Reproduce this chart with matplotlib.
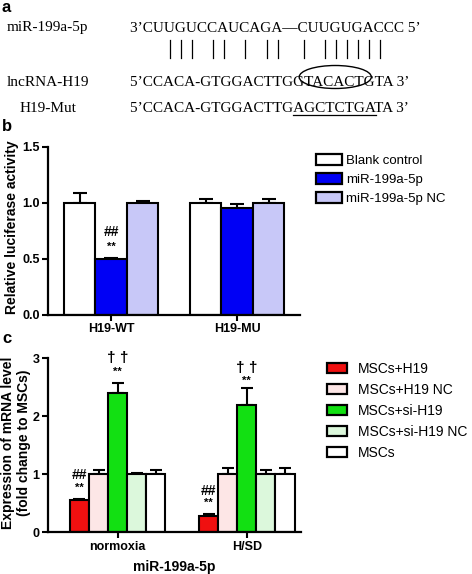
import matplotlib
matplotlib.use('Agg')
import matplotlib.pyplot as plt
from matplotlib.patches import Patch, Ellipse
from matplotlib.lines import Line2D
import numpy as np

plt.rcParams['font.family'] = ['Liberation Sans', 'DejaVu Sans']

# ---------------- data ----------------
# panel a
seq_labels = ['miR-199a-5p', 'lncRNA-H19', 'H19-Mut']
seqs = ['3’CUUGUCCAUCAGA—CUUGUGACCC 5’',
        '5’CCACA-GTGGACTTGGTACACTGTA 3’',
        '5’CCACA-GTGGACTTGAGCTCTGATA 3’']
pair_idx = [4, 5, 6, 8, 9, 11, 13, 14, 16, 18, 19, 20, 21, 22, 23]
site_start, site_end = 17, 25

# panel b
groups_b = ['H19-WT', 'H19-MU']
series_b = ['Blank control', 'miR-199a-5p', 'miR-199a-5p NC']
vals_b = [[1.0, 1.0], [0.50, 0.955], [1.0, 1.0]]
errs_b = [[0.09, 0.035], [0.006, 0.03], [0.012, 0.035]]
colors_b = ['#ffffff', '#0000f5', '#c8c8f8']
ann_b = [(0, 1, '##', 0.74, 10), (0, 1, '**', 0.61, 8)]

# panel c
groups_c = ['normoxia', 'H/SD']
series_c = ['MSCs+H19', 'MSCs+H19 NC', 'MSCs+si-H19', 'MSCs+si-H19 NC', 'MSCs']
vals_c = [[0.55, 0.28], [1.0, 1.0], [2.4, 2.19], [1.0, 1.0], [1.0, 1.0]]
errs_c = [[0.02, 0.04], [0.07, 0.1], [0.17, 0.3], [0.02, 0.08], [0.08, 0.1]]
colors_c = ['#f01010', '#fde6e6', '#12e012', '#dcf8dc', '#ffffff']
ann_c = [(0, 0, '##', 0.99, 10), (0, 0, '**', 0.76, 8),
         (0, 2, '† †', 3.0, 11), (0, 2, '**', 2.77, 8),
         (1, 2, '† †', 2.83, 11), (1, 2, '**', 2.61, 8),
         (1, 0, '##', 0.71, 10), (1, 0, '**', 0.50, 8)]

# ---------------- figure ----------------
W, H = 472, 574
fig = plt.figure(figsize=(W / 100, H / 100), dpi=100)


def fx(x):
    return x / W


def fy(y):
    return 1 - y / H


renderer = fig.canvas.get_renderer()
serif = dict(family=['Liberation Serif', 'DejaVu Serif'], fontsize=11)


def width_px(s):
    if not s:
        return 0.0
    t = fig.text(0, 0, s, **serif)
    w = t.get_window_extent(renderer).width
    t.remove()
    return w


# panel letters
for lab, yb in [('a', 12), ('b', 131), ('c', 343)]:
    fig.text(fx(2), fy(yb), lab, fontsize=12, fontweight='bold', va='baseline')

# panel a
x0 = 130
baselines = [31.5, 86, 112]
label_x = [7, 7, 20]
for lab, s, yb, lx in zip(seq_labels, seqs, baselines, label_x):
    fig.text(fx(lx), fy(yb), lab, va='baseline', **serif)
    fig.text(fx(x0), fy(yb), s, va='baseline', **serif)

top = seqs[0]
for i in pair_idx:
    xc = x0 + (width_px(top[:i]) + width_px(top[:i + 1])) / 2 + 1
    fig.add_artist(Line2D([fx(xc), fx(xc)], [fy(40), fy(58)],
                          transform=fig.transFigure, color='black', lw=0.9))

lnc = seqs[1]
L = x0 + width_px(lnc[:site_start])
Lw = width_px(lnc[:site_start + 1]) - width_px(lnc[:site_start])
R = x0 + width_px(lnc[:site_end])
Rw = width_px(lnc[:site_end]) - width_px(lnc[:site_end - 1])
el_l, el_r = L + 0.55 * Lw, R - 0.3 * Rw
fig.add_artist(Ellipse((fx((el_l + el_r) / 2), fy(77)), fx(el_r - el_l), 23 / H,
                       transform=fig.transFigure, fill=False, edgecolor='black', lw=1.0))

mut = seqs[2]
uL = x0 + width_px(mut[:site_start])
uR = x0 + width_px(mut[:site_end])
fig.add_artist(Line2D([fx(uL), fx(uR)], [fy(114.5), fy(114.5)],
                      transform=fig.transFigure, color='black', lw=0.9))


def style_axes(ax):
    for sp in ['top', 'right']:
        ax.spines[sp].set_visible(False)
    for sp in ['left', 'bottom']:
        ax.spines[sp].set_linewidth(1.6)
    ax.tick_params(axis='both', length=4, width=1.5, labelsize=9, pad=2)
    for lab in ax.get_xticklabels() + ax.get_yticklabels():
        lab.set_fontweight('bold')


# panel b
axb = fig.add_axes([fx(48), fy(314.7), fx(252), 168 / H])
nb = len(series_b)
wb = 0.25
xb = np.arange(len(groups_b))
for k in range(nb):
    pos = xb + (k - (nb - 1) / 2) * wb
    axb.bar(pos, vals_b[k], width=wb, color=colors_b[k], edgecolor='black',
            linewidth=1.5, zorder=2)
    axb.errorbar(pos, vals_b[k], yerr=[np.zeros(len(groups_b)), errs_b[k]],
                 fmt='none', ecolor='black', elinewidth=1.5, capsize=5,
                 capthick=1.5, zorder=1)
for g, k, txt, yv, fs in ann_b:
    axb.text(xb[g] + (k - (nb - 1) / 2) * wb, yv, txt, ha='center', va='center',
             fontsize=fs, fontweight='bold')
axb.set_xlim(-0.5, 1.5)
axb.set_ylim(0, 1.5)
axb.set_yticks([0, 0.5, 1.0, 1.5])
axb.set_yticklabels(['0.0', '0.5', '1.0', '1.5'])
axb.set_xticks(xb)
axb.set_xticklabels(groups_b)
style_axes(axb)
axb.set_ylabel('Relative luciferase activity', fontsize=10, fontweight='bold',
               va='center', ha='center')
axb.yaxis.set_label_coords((12.5 - 48) / 252, 0.52)

handles_b = [Patch(facecolor=c, edgecolor='black', linewidth=1.6) for c in colors_b]
fig.legend(handles_b, series_b, loc='upper left',
           bbox_to_anchor=(fx(316), fy(154)), frameon=False, fontsize=9.5,
           handlelength=1.95, handleheight=0.9, handletextpad=0.35,
           labelspacing=0.45, borderpad=0, borderaxespad=0)

# panel c
axc = fig.add_axes([fx(48), fy(532.3), fx(253), 174 / H])
nc = len(series_c)
wc = 0.148
xc_ = np.arange(len(groups_c))
for k in range(nc):
    pos = xc_ + (k - (nc - 1) / 2) * wc
    axc.bar(pos, vals_c[k], width=wc, color=colors_c[k], edgecolor='black',
            linewidth=1.5, zorder=2)
    axc.errorbar(pos, vals_c[k], yerr=[np.zeros(len(groups_c)), errs_c[k]],
                 fmt='none', ecolor='black', elinewidth=1.5, capsize=4,
                 capthick=1.5, zorder=1)
for g, k, txt, yv, fs in ann_c:
    axc.text(xc_[g] + (k - (nc - 1) / 2) * wc, yv, txt, ha='center', va='center',
             fontsize=fs, fontweight='bold')
axc.set_xlim(-0.54, 1.42)
axc.set_ylim(0, 3)
axc.set_yticks([0, 1, 2, 3])
axc.set_xticks(xc_)
axc.set_xticklabels(groups_c)
style_axes(axc)
axc.set_ylabel('Expression of mRNA level\n(fold change to MSCs)', fontsize=10,
               fontweight='bold', linespacing=1.15, va='center', ha='center')
axc.yaxis.set_label_coords((16 - 48) / 253, 0.515)
axc.set_xlabel('miR-199a-5p', fontsize=10, fontweight='bold', labelpad=5)

handles_c = [Patch(facecolor=c, edgecolor='black', linewidth=1.6) for c in colors_c]
fig.legend(handles_c, series_c, loc='upper left',
           bbox_to_anchor=(fx(327), fy(362)), frameon=False, fontsize=10,
           handlelength=1.45, handleheight=0.8, handletextpad=0.75,
           labelspacing=0.5, borderpad=0, borderaxespad=0)

fig.savefig('out.png', dpi=100)
